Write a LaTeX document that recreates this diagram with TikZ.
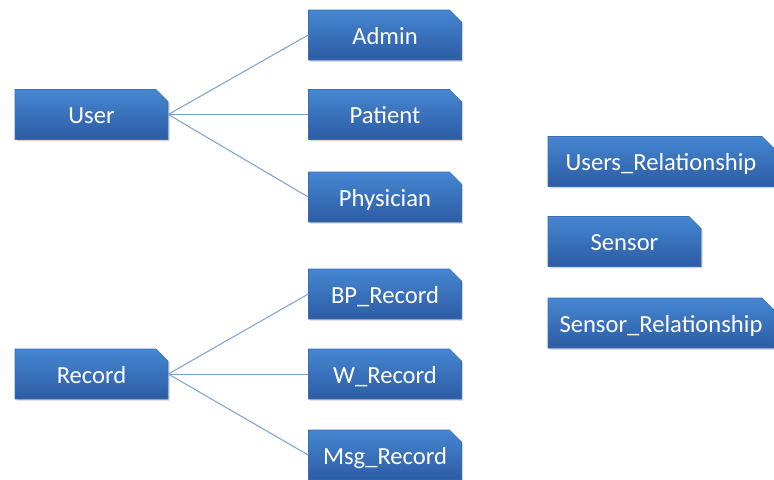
\documentclass[tikz,border=0pt]{standalone}
\usepackage{fontspec}
\setmainfont{Carlito}
\usetikzlibrary{shapes.misc,shadows}
\definecolor{boxTop}{RGB}{70, 134, 210}
\definecolor{boxBottom}{RGB}{44, 92, 164}
\definecolor{boxEdge}{RGB}{58, 110, 180}
\definecolor{linkBlue}{RGB}{120, 160, 210}

\begin{document}
\begin{tikzpicture}[x=0.5pt, y=-0.5pt,
    entity/.style={chamfered rectangle, chamfered rectangle corners=north east,
        chamfered rectangle xsep=3pt, chamfered rectangle ysep=3pt,
        top color=boxTop, bottom color=boxBottom, draw=boxEdge, line width=0.3pt,
        drop shadow={opacity=0.35, shadow xshift=0.8pt, shadow yshift=-0.8pt},
        text=white, font=\fontsize{12.3}{14}\selectfont, inner sep=0pt,
        text height=10.4pt, text depth=1pt,
        minimum width=76.5pt, minimum height=25pt},
    wide/.style={entity, minimum width=113pt},
    link/.style={draw=linkBlue, line width=0.5pt}]
    \useasboundingbox (0,0) rectangle (774,479);
    % user hierarchy
    \node[entity] (user) at (91.5,114.5) {User};
    \node[entity] (admin) at (385,35) {Admin};
    \node[entity] (patient) at (385,114.5) {Patient};
    \node[entity] (physician) at (385,197) {Physician};
    % record hierarchy
    \node[entity] (record) at (91.5,374) {Record};
    \node[entity] (bprecord) at (385,294) {BP\_Record};
    \node[entity] (wrecord) at (385,374) {W\_Record};
    \node[entity] (msgrecord) at (385,455) {Msg\_Record};
    % standalone tables
    \node[wide] (usersrel) at (661,161.5) {Users\_Relationship};
    \node[entity] (sensor) at (624.5,241.5) {Sensor};
    \node[wide] (sensorrel) at (661,323) {Sensor\_Relationship};
    \draw[link] (user.east) -- (admin.west);
    \draw[link] (user.east) -- (patient.west);
    \draw[link] (user.east) -- (physician.west);
    \draw[link] (record.east) -- (bprecord.west);
    \draw[link] (record.east) -- (wrecord.west);
    \draw[link] (record.east) -- (msgrecord.west);
\end{tikzpicture}
\end{document}
